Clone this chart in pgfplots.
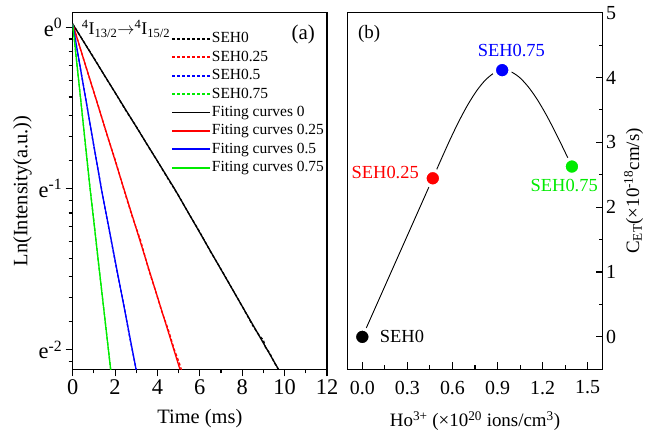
\documentclass[border=0pt]{standalone}
\usepackage{fontspec}
\setmainfont{Liberation Serif}
\usepackage{pgfplots}
\pgfplotsset{compat=1.18}
\definecolor{mygreen}{RGB}{0,235,0}
\definecolor{myred}{RGB}{255,0,0}
\definecolor{myblue}{RGB}{0,0,255}

\pgfplotstableread{
x y
0 0.02
0.5 -0.085
1.0 -0.19
1.5 -0.30
2.0 -0.405
2.5 -0.515
3.0 -0.615
3.5 -0.725
4.0 -0.83
4.5 -0.94
5.0 -1.045
5.5 -1.16
6.0 -1.27
6.5 -1.39
7.0 -1.50
7.5 -1.615
8.0 -1.73
8.5 -1.85
8.8 -1.91
9.0 -1.94
9.1 -1.985
9.3 -2.02
9.5 -2.075
9.75 -2.13
}\dataA
\pgfplotstableread{
x y
0 0.02
0.4 -0.15
0.8 -0.32
1.2 -0.485
1.6 -0.66
2.0 -0.82
2.4 -1.0
2.8 -1.17
3.2 -1.32
3.6 -1.51
3.9 -1.63
4.2 -1.76
4.5 -1.87
4.8 -2.0
5.0 -2.07
5.2 -2.15
}\dataB
\pgfplotstableread{
x y
0 0.02
0.3 -0.21
0.6 -0.43
0.9 -0.665
1.2 -0.885
1.5 -1.105
1.8 -1.31
2.1 -1.52
2.4 -1.71
2.7 -1.93
2.9 -2.06
3.02 -2.14
}\dataC
\pgfplotstableread{
x y
0 0.02
0.2 -0.23
0.4 -0.475
0.6 -0.73
0.8 -0.975
1.0 -1.2
1.2 -1.445
1.4 -1.67
1.6 -1.9
1.8 -2.13
1.85 -2.16
}\dataD

\begin{document}
\begin{tikzpicture}[x=1bp,y=1bp]
\path[use as bounding box] (0,0) rectangle (648,435);

\begin{axis}[
  at={(72.7bp,65.7bp)}, anchor=south west,
  width=254.3bp, height=356.6bp, scale only axis,
  xmin=0, xmax=12, ymin=-2.12, ymax=0.09,
  xtick={0,2,...,12}, minor xtick={1,3,...,11},
  ytick={0,-1,-2},
  yticklabels={e\textsuperscript{0},e\textsuperscript{-1},e\textsuperscript{-2}},
  minor ytick={-0.07283,-0.15137,-0.23662,-0.32982,-0.43260,-0.54718,-0.67659,-0.82528,-1.07282,-1.15136,-1.23661,-1.32981,-1.43259,-1.54716,-1.67658,-1.82526,-2.07283},
  tick align=outside, xtick pos=bottom, ytick pos=left,
  major tick length=7bp, minor tick length=4bp,
  axis line style={line width=1.3bp},
  every tick/.style={line width=1.1bp, black},
  ticklabel style={font=\fontsize{22.5}{23}\selectfont},
  /pgf/number format/assume math mode=true,
  xlabel={Time (ms)}, ylabel={Ln(Intensity(a.u.))},
  label style={font=\fontsize{20.5}{22}\selectfont},
  xlabel style={yshift=-8bp},
  legend style={at={(0.375,0.955)}, anchor=north west, draw=none, fill=none,
    font=\fontsize{15.5}{17}\selectfont, row sep=2.4bp,
    nodes={inner sep=1bp, text height=11bp, text depth=3bp}},
  legend cell align=left,
  legend image code/.code={\draw[#1, line width=1.7bp] (0bp,0bp) -- (38bp,0bp);},
]
\addplot[black, line width=1.3bp, dash pattern=on 3bp off 2bp] table[x=x,y=y] {\dataA};
\addlegendentry{SEH0}
\addplot[myred, line width=1.3bp, dash pattern=on 3bp off 2bp] table[x=x,y=y] {\dataB};
\addlegendentry{SEH0.25}
\addplot[myblue, line width=1.3bp, dash pattern=on 3bp off 2bp] table[x=x,y=y] {\dataC};
\addlegendentry{SEH0.5}
\addplot[mygreen, line width=1.3bp, dash pattern=on 3bp off 2bp] table[x=x,y=y] {\dataD};
\addlegendentry{SEH0.75}
\addplot[black, line width=1.3bp] coordinates {(0,0.02) (4.8,-1.0) (9.71,-2.12)};
\addlegendentry{Fiting curves 0}
\addplot[myred, line width=1.3bp] coordinates {(0,0.02) (5.06,-2.12)};
\addlegendentry{Fiting curves 0.25}
\addplot[myblue, line width=1.3bp] coordinates {(0,0.02) (1.35,-1.0) (2.99,-2.12)};
\addlegendentry{Fiting curves 0.5}
\addplot[mygreen, line width=1.3bp] coordinates {(0,0.02) (0.82,-1.0) (1.79,-2.12)};
\addlegendentry{Fiting curves 0.75}
\node[anchor=base west, font=\fontsize{18}{20}\selectfont, inner sep=0pt] at (axis cs:0.42,-0.048)
  {\textsuperscript{4}I\textsubscript{13/2}$\rightarrow$\textsuperscript{4}I\textsubscript{15/2}};
\node[font=\fontsize{21}{22}\selectfont, inner sep=0pt] at (axis cs:10.88,-0.048) {(a)};
\end{axis}

\begin{axis}[
  at={(347.3bp,65.7bp)}, anchor=south west,
  width=255.4bp, height=356.6bp, scale only axis,
  xmin=-0.1, xmax=1.6, ymin=-0.5, ymax=5,
  xtick={0,0.3,0.6,0.9,1.2,1.5},
  xticklabels={0.0,0.3,0.6,0.9,1.2,1.5},
  minor xtick={0.15,0.45,0.75,1.05,1.35},
  ytick={0,1,2,3,4,5}, minor ytick={0.5,1.5,2.5,3.5,4.5},
  tick align=inside, xtick pos=bottom, ytick pos=right, yticklabel pos=right,
  major tick length=7bp, minor tick length=4bp,
  axis line style={line width=1.3bp},
  every tick/.style={line width=1.1bp, black},
  ticklabel style={font=\fontsize{20}{20}\selectfont},
  xticklabel style={yshift=-8bp},
  /pgf/number format/assume math mode=true,
  xlabel={Ho\textsuperscript{3+} (×10\textsuperscript{20} ions/cm\textsuperscript{3})},
  ylabel={C\textsubscript{ET}(×10\textsuperscript{-18}cm/s)},
  label style={font=\fontsize{19}{21}\selectfont},
  xlabel style={yshift=-10bp},
  ylabel style={yshift=-1bp},
]
\addplot[black, line width=0.9bp] coordinates {(0,0) (0.469,2.446)};
\addplot[black, line width=0.9bp, smooth] coordinates {
(0.469,2.446) (0.527,2.750) (0.585,3.048) (0.642,3.321) (0.700,3.572) (0.758,3.786)
(0.815,3.951) (0.873,4.064) (0.931,4.114) (0.989,4.089) (1.047,4.000) (1.105,3.855)
(1.163,3.666) (1.221,3.438) (1.279,3.183) (1.337,2.910) (1.395,2.627)};
\addplot[only marks, mark=*, mark size=8bp, mark options={draw=white, line width=3.4bp, fill=black}] coordinates {(0,0)};
\addplot[only marks, mark=*, mark size=8bp, mark options={draw=white, line width=3.4bp, fill=myred}] coordinates {(0.469,2.446)};
\addplot[only marks, mark=*, mark size=8bp, mark options={draw=white, line width=3.4bp, fill=myblue}] coordinates {(0.931,4.114)};
\addplot[only marks, mark=*, mark size=8bp, mark options={draw=white, line width=3.4bp, fill=mygreen}] coordinates {(1.395,2.627)};
\node[anchor=west, font=\fontsize{19}{20}\selectfont, inner sep=0pt] at (axis cs:-0.03,4.67) {(b)};
\node[font=\fontsize{18.5}{20}\selectfont, text=myblue, inner sep=0pt] at (axis cs:0.992,4.41) {SEH0.75};
\node[anchor=east, font=\fontsize{18.5}{20}\selectfont, text=myred, inner sep=0pt] at (axis cs:0.377,2.54) {SEH0.25};
\node[font=\fontsize{18.5}{20}\selectfont, text=mygreen, inner sep=0pt] at (axis cs:1.344,2.334) {SEH0.75};
\node[anchor=west, font=\fontsize{18.5}{20}\selectfont, text=black, inner sep=0pt] at (axis cs:0.116,0.01) {SEH0};
\end{axis}
\end{tikzpicture}
\end{document}
